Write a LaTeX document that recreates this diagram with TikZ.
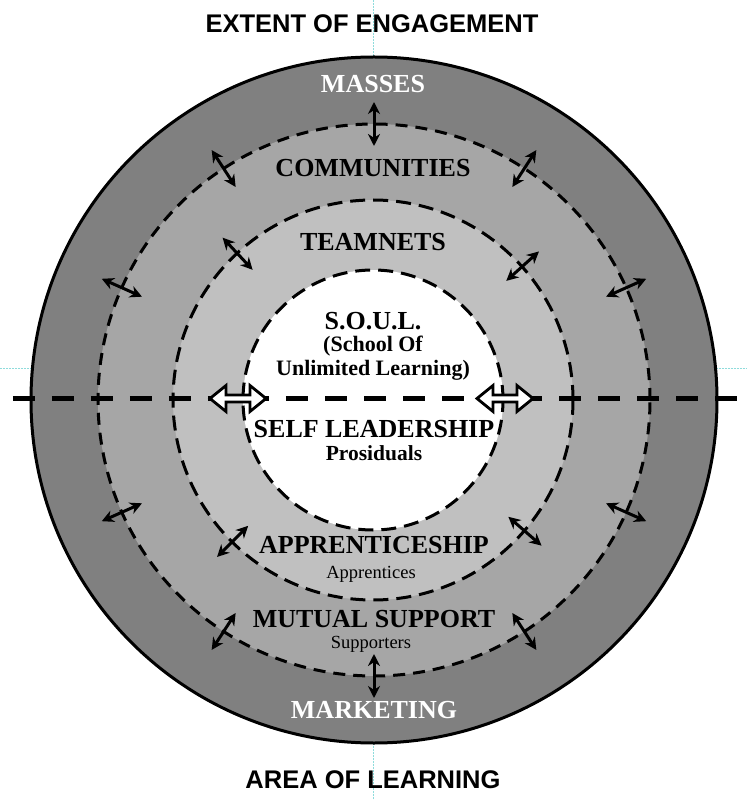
\documentclass[tikz,border=0pt]{standalone}
\usepackage{fontspec}
\setmainfont{Liberation Serif}
\newfontfamily\capfont{Liberation Sans}
\usepackage{tikz}
\usetikzlibrary{arrows.meta, calc}
\definecolor{rgOuter}{HTML}{808080}
\definecolor{rgMid}{HTML}{A6A6A6}
\definecolor{rgInner}{HTML}{C0C0C0}
\definecolor{rgGuide}{HTML}{8FDCDC}
\tikzset{
  ring/.style={
    circle, inner sep=0pt,
    minimum size=#1
  },
  boundary/.style={dash pattern=on 12pt off 8pt, line width=3pt},
  innerboundary/.style={dash pattern=on 15pt off 8pt, line width=3pt},
  ringlabel/.style={anchor=base, font=\bfseries\fontsize{26}{30}\selectfont},
  sublabel/.style={anchor=base, font=\fontsize{18.5}{22}\selectfont},
  axislabel/.style={anchor=base, font=\capfont\bfseries\fontsize{25.5}{30}\selectfont},
  crossarrow/.style={
    {Stealth[length=12pt, width=12pt]}-{Stealth[length=12pt, width=12pt]},
    line width=3pt
  },
  hollowarrow/.style={
    draw=black, fill=white, line width=2.8pt, line join=miter
  }
}

\begin{document}
\begin{tikzpicture}[x=1pt, y=1pt]
  \useasboundingbox (-374,-400) rectangle (373,400);
  % faint guides
  \draw[rgGuide, densely dotted, line width=0.5pt] (-374,32) -- (373,32);
  \draw[rgGuide, densely dotted, line width=0.5pt] (-1,400) -- (-1,-400);
  % rings
  \node[ring=686pt, fill=rgOuter, draw, line width=3pt] (outer) at (0,0) {};
  \node[ring=552pt, fill=rgMid, draw, boundary] (communities) at (0,0) {};
  \node[ring=400pt, fill=rgInner, draw, innerboundary] (teamnets) at (-1,0) {};
  \node[ring=260pt, fill=white, draw, innerboundary] (soul) at (-1,0) {};
  % axis
  \coordinate (west) at (-361,1.5);
  \coordinate (east) at (364,1.5);
  \draw[line width=5pt, dash pattern=on 22pt off 17pt] (west) -- (east);
  % hollow two-way arrows on the inner circle
  \coordinate (lhA) at (-164,1.5);
  \coordinate (rhA) at (103,1.5);
  \foreach \p in {lhA, rhA} {
    \draw[hollowarrow] (\p) -- ++(16,13) -- ++(0,-9.5) -- ++(24,0) -- ++(0,9.5)
      -- ++(16,-13) -- ++(-16,-13) -- ++(0,9.5) -- ++(-24,0) -- ++(0,-9.5) -- cycle;
  }
  % arrows across the boundaries
  \foreach \a in {24,57,90,123,156,-24,-57,-90,-123,-156} {
    \coordinate (cin\a) at (\a:254);
    \coordinate (cout\a) at (\a:298);
    \draw[crossarrow] (cin\a) -- (cout\a);
  }
  \foreach \a in {42,133,-135,-41} {
    \coordinate (tin\a) at (\a:178);
    \coordinate (tout\a) at (\a:222);
    \draw[crossarrow] (tin\a) -- (tout\a);
  }
  % labels
  \node[axislabel] (extent) at (-2,367) {EXTENT OF ENGAGEMENT};
  \node[axislabel] (area) at (-1,-388) {AREA OF LEARNING};
  \node[ringlabel, white] (lbMasses) at (-1,307) {MASSES};
  \node[ringlabel] (lbComm) at (-1,223) {COMMUNITIES};
  \node[ringlabel] (lbTeam) at (-1,149) {TEAMNETS};
  \node[ringlabel] (lbSoul) at (-1,70) {S.O.U.L.};
  \node[ringlabel, font=\bfseries\fontsize{22}{26}\selectfont] (lbSchool) at (-1,48) {(School Of};
  \node[ringlabel, font=\bfseries\fontsize{22}{26}\selectfont] (lbUnlim) at (-1,24) {Unlimited Learning)};
  \node[ringlabel] (lbSelf) at (0,-37) {SELF LEADERSHIP};
  \node[ringlabel, font=\bfseries\fontsize{21.5}{25}\selectfont] (lbPros) at (0,-60) {Prosiduals};
  \node[ringlabel] (lbAppr) at (0,-153) {APPRENTICESHIP};
  \node[sublabel] (lbApprs) at (-3,-178) {Apprentices};
  \node[ringlabel] (lbMutual) at (0,-227) {MUTUAL SUPPORT};
  \node[sublabel] (lbSupp) at (-3,-248) {Supporters};
  \node[ringlabel, white] (lbMarket) at (0,-318) {MARKETING};
\end{tikzpicture}
\end{document}
